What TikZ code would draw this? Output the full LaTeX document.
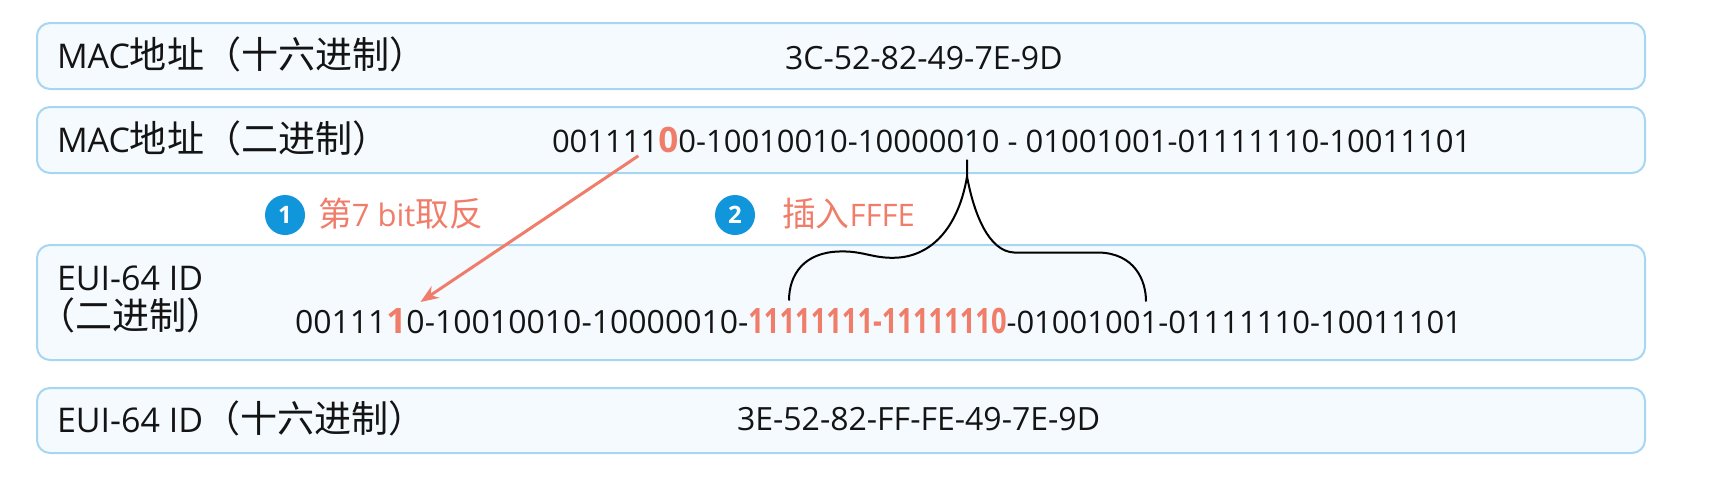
\documentclass[tikz,border=0pt]{standalone}
\usepackage{fontspec}
\usepackage{graphicx}
\setmainfont{Open Sans}
\newfontfamily\cjk{Noto Sans CJK SC}[Scale=1.09]
\usetikzlibrary{arrows.meta,calc}
\definecolor{boxline}{RGB}{166,214,240}
\definecolor{boxfill}{RGB}{244,250,254}
\definecolor{hl}{RGB}{240,125,105}
\definecolor{badge}{RGB}{18,150,219}
\definecolor{ink}{RGB}{20,20,20}
\newcommand\fs[1]{\fontsize{#1}{#1}\selectfont}
\begin{document}
\begin{tikzpicture}[x=1pt,y=-1pt,
  panel/.style={draw=boxline, fill=boxfill, line width=2pt, rounded corners=13pt,
    anchor=north west, inner sep=0pt, minimum width=1608pt},
  lab/.style={anchor=base west, inner sep=0pt, outer sep=0pt, text=ink, font=\fs{34}},
  dat/.style={anchor=base west, inner sep=0pt, outer sep=0pt, text=ink, font=\fs{31}},
  hex/.style={dat, font=\fs{32}},
  wide/.style={dat, font=\fs{32}},
  big/.style={dat, text=hl, font=\fs{35}\bfseries},
  badgenode/.style={circle, fill=badge, text=white, minimum size=40pt, inner sep=0pt,
    font=\fs{24}\bfseries},
  note/.style={anchor=base west, inner sep=0pt, outer sep=0pt, text=hl, font=\fs{31}},
  bracepath/.style={draw=black, line width=2pt},
  arr/.style={draw=hl, line width=3pt, -{Stealth[length=18pt,width=14pt]}}]
\useasboundingbox (0,0) rectangle (1718,482);

% panels
\node[panel, minimum height=66pt]  (p1) at (36,22)  {};
\node[panel, minimum height=66pt]  (p2) at (36,106) {};
\node[panel, minimum height=115pt] (p3) at (36,244) {};
\node[panel, minimum height=65pt]  (p4) at (36,387) {};

% row 1
\node[lab] (l1) at (57,68) {MAC{\cjk 地址（十六进制）}};
\node[hex] (h1) at (785,69) {3C-52-82-49-7E-9D};

% row 2
\node[lab] (l2) at (57,152) {MAC{\cjk 地址（二进制）}};
\node[dat] (b2a) at (552,152.5) {001111};
\node[big] (b2z) at (b2a.base east) {0};
\node[dat] (b2b) at (b2z.base east) {0-10010010-100000};
\node[dat] (b2t) at (b2b.base east) {1};
\node[dat] (b2c) at (b2t.base east) {0~-~01001001-01111110-10011101};

% annotations
\node[badgenode] (n1) at (285,215) {1};
\node[note] (t1) at (318,226.5) {{\cjk 第}7 bit{\cjk 取反}};
\node[badgenode] (n2) at (735,215) {2};
\node[note] (t2) at (782,226.5) {{\cjk 插入}FFFE};

% row 3
\node[lab] (l3a) at (57,290) {EUI-64 ID};
\node[lab] (l3b) at (38,329) {\cjk （二进制）};
\node[wide] (b3a) at (295,333) {00111};
\node[big] (b3o) at (b3a.base east) {1};
\node[wide] (b3b) at (b3o.base east) {0-10010010-10000010-};
\node[dat, text=hl] (b3f) at (b3b.base east) {\scalebox{0.78}[1]{\fs{35}\bfseries 11111111-11111110}};
\node[dat] (b3c) at (b3f.base east) {-01001001};
\node[dat] (b3d) at (b3c.base east) {-01111110-10011101};

% row 4
\node[lab] (l4) at (57,432) {EUI-64 ID{\cjk （十六进制）}};
\node[hex] (h4) at (737,430) {3E-52-82-FF-FE-49-7E-9D};

% arrow: flip bit 7
\coordinate (as) at ($(b2z.south west)+(-20,3)$);
\coordinate (ae) at ($(b3o.north east)+(14,-6)$);
\draw[arr] (as) -- (ae);

% brace: insert FFFE
\coordinate (bt) at ($(b2t.south)+(-6,7)$);
\begin{scope}[shift={(bt)}]
\draw[bracepath] (0,0) -- (0,17)
  .. controls (-8,65) and (-33,95) .. (-68,98)
  .. controls (-93,100) and (-103,91) .. (-128,92)
  .. controls (-163,93) and (-178,115) .. (-178,141);
\draw[bracepath] (0,17)
  .. controls (7,55) and (22,92) .. (47,93)
  -- (132,93)
  .. controls (167,94) and (179,120) .. (179,142);
\end{scope}
\end{tikzpicture}
\end{document}
